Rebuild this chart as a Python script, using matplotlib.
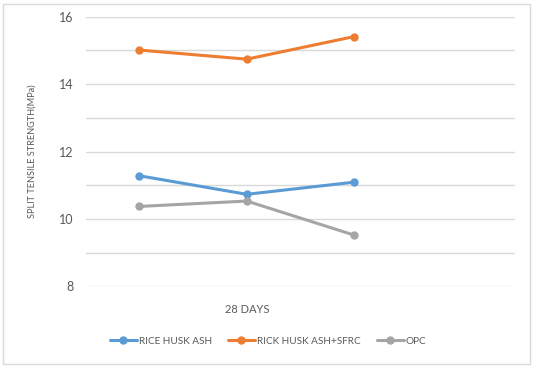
import matplotlib.pyplot as plt
from matplotlib.patches import Rectangle

# chart data
categories = ["", "28 DAYS", "", ""]
rice_husk_ash = [11.28, 10.73, 11.09]
rice_husk_sfrc = [15.01, 14.74, 15.41]
opc = [10.37, 10.53, 9.52]
y_ticks = [8, 10, 12, 14, 16]

series = [
    ("RICE HUSK ASH", rice_husk_ash, "#5B9BD5"),
    ("RICK HUSK ASH+SFRC", rice_husk_sfrc, "#ED7D31"),
    ("OPC", opc, "#A5A5A5"),
]

text_color = "#595959"
plt.rcParams['font.family'] = ['Lato', 'DejaVu Sans']


def main():
    fig = plt.figure(figsize=(5.36, 3.68), dpi=100)
    ax = fig.add_axes([0.160, 0.222, 0.801, 0.7326])

    x = list(range(len(rice_husk_ash)))
    for name, vals, color in series:
        ax.plot(x, vals, color=color, lw=2.2, marker="o", ms=5,
                label=name, solid_capstyle="round")

    ax.set_xlim(-0.5, len(categories) - 0.5)
    ax.set_ylim(8, 16)
    ax.set_yticks(y_ticks)
    ax.set_yticks(range(8, 17), minor=True)
    ax.grid(axis="y", which="both", color="#D9D9D9", lw=1)
    ax.set_axisbelow(True)
    ax.set_xticks(range(len(categories)))
    ax.set_xticklabels(categories)
    for s in ax.spines.values():
        s.set_visible(False)
    ax.tick_params(axis="both", which="both", length=0, colors=text_color)
    ax.tick_params(axis="y", labelsize=9, pad=8.5)
    ax.tick_params(axis="x", labelsize=8, pad=13)
    ax.set_ylabel("SPLIT TENSILE STRENGTH(MPa)", fontsize=6.6,
                  color=text_color)
    ax.yaxis.set_label_coords(-0.115, 0.5)

    fig.legend(loc="center", bbox_to_anchor=(0.5, 0.073), ncol=3,
               frameon=False, fontsize=7.2, labelcolor=text_color,
               handlelength=2.7, handletextpad=0.2, columnspacing=1.6)

    fig.patches.append(Rectangle((0.006, 0.012), 0.982, 0.978,
                                 transform=fig.transFigure, fill=False,
                                 edgecolor="#D9D9D9", lw=1))

    fig.savefig("out.png", dpi=100)


if __name__ == "__main__":
    main()
